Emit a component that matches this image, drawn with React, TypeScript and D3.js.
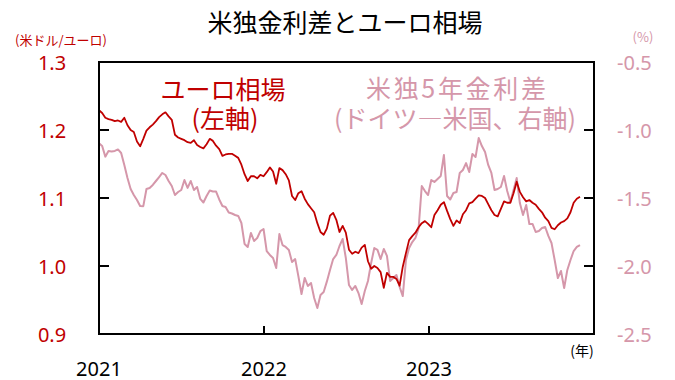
import React from "react";
import * as d3 from "d3";

// Weekly observations starting 2021-01-01
const startDate = new Date(2021, 0, 1);

// EUR/USD (left axis, USD per EUR)
const eurUsd = [
  1.229, 1.225, 1.218, 1.216, 1.215, 1.213, 1.214, 1.212, 1.218, 1.207,
  1.200, 1.197, 1.183, 1.176, 1.187, 1.199, 1.204, 1.208, 1.213, 1.219,
  1.223, 1.226, 1.220, 1.215, 1.193, 1.189, 1.187, 1.185, 1.182, 1.181,
  1.185, 1.178, 1.175, 1.173, 1.179, 1.187, 1.184, 1.177, 1.172, 1.162,
  1.164, 1.165, 1.165, 1.162, 1.159, 1.149, 1.135, 1.125, 1.132, 1.132,
  1.129, 1.134, 1.132, 1.138, 1.145, 1.139, 1.121, 1.144, 1.141, 1.135,
  1.126, 1.103, 1.097, 1.107, 1.110, 1.099, 1.091, 1.085, 1.079, 1.063,
  1.050, 1.046, 1.055, 1.074, 1.078, 1.068, 1.050, 1.059, 1.049, 1.024,
  1.018, 1.021, 1.019, 1.027, 1.031, 1.007, 0.996, 1.000, 0.997, 0.991,
  0.968, 0.990, 0.984, 0.984, 0.981, 0.971, 0.999, 1.019, 1.038, 1.044,
  1.049, 1.057, 1.063, 1.066, 1.062, 1.057, 1.075, 1.082, 1.090, 1.094,
  1.081, 1.069, 1.059, 1.067, 1.063, 1.076, 1.082, 1.092, 1.094, 1.099,
  1.104, 1.103, 1.100, 1.091, 1.082, 1.075, 1.073, 1.084, 1.095, 1.093,
  1.093, 1.107, 1.124, 1.109, 1.101, 1.095, 1.097, 1.093, 1.090, 1.084,
  1.079, 1.071, 1.066, 1.056, 1.054, 1.060, 1.064, 1.066, 1.070, 1.079,
  1.093, 1.099, 1.102,
];

// Germany minus US 5Y yield spread (right axis, %)
const spread5y = [
  -1.098, -1.118, -1.196, -1.154, -1.158, -1.154, -1.143, -1.169, -1.257, -1.353,
  -1.434, -1.478, -1.515, -1.559, -1.560, -1.434, -1.426, -1.404, -1.375, -1.346,
  -1.316, -1.331, -1.375, -1.412, -1.478, -1.456, -1.441, -1.368, -1.426, -1.375,
  -1.441, -1.419, -1.507, -1.533, -1.485, -1.445, -1.452, -1.453, -1.511, -1.559,
  -1.566, -1.607, -1.614, -1.625, -1.632, -1.684, -1.838, -1.860, -1.757, -1.816,
  -1.794, -1.743, -1.728, -1.890, -1.919, -1.941, -2.015, -1.765, -1.846, -1.860,
  -1.882, -1.971, -1.949, -2.074, -2.206, -2.088, -2.147, -2.125, -2.235, -2.309,
  -2.213, -2.191, -2.115, -2.029, -1.949, -1.919, -1.853, -1.801, -1.941, -2.140,
  -2.176, -2.147, -2.199, -2.279, -2.184, -2.110, -1.978, -1.868, -1.882, -1.949,
  -1.875, -1.926, -2.110, -2.088, -2.066, -2.154, -2.221, -1.956, -1.868, -1.824,
  -1.794, -1.723, -1.412, -1.449, -1.478, -1.368, -1.382, -1.360, -1.338, -1.184,
  -1.485, -1.511, -1.463, -1.456, -1.316, -1.294, -1.243, -1.309, -1.176, -1.199,
  -1.059, -1.118, -1.162, -1.257, -1.316, -1.441, -1.434, -1.419, -1.338, -1.449,
  -1.529, -1.441, -1.353, -1.537, -1.625, -1.551, -1.691, -1.691, -1.750, -1.743,
  -1.721, -1.713, -1.779, -1.831, -1.956, -2.088, -2.037, -2.162, -2.029, -1.956,
  -1.890, -1.860, -1.846,
];

const leftTicks = [0.9, 1.0, 1.1, 1.2, 1.3];
const rightTicks = [-2.5, -2.0, -1.5, -1.0, -0.5];
const yearTicks = [2021, 2022, 2023];

const RED = "#c00000";
const PINK = "#d597aa";
const JP = "'Noto Sans CJK JP', 'Noto Sans', sans-serif";
const NUM = "'Noto Sans', 'Open Sans', sans-serif";

export default function App() {
  const W = 675, H = 380;
  const L = 99, R = 594, T = 62, B = 334;

  const dates = eurUsd.map((_, i) => d3.timeDay.offset(startDate, 7 * i));
  const x = d3.scaleTime().domain([new Date(2021, 0, 1), new Date(2024, 0, 1)]).range([L, R]);
  const yL = d3.scaleLinear().domain([0.9, 1.3]).range([B, T]);
  const yR = d3.scaleLinear().domain([-2.5, -0.5]).range([B, T]);

  const lineL = d3.line<number>().x((_, i) => x(dates[i])).y((d) => yL(d));
  const lineR = d3.line<number>().x((_, i) => x(dates[i])).y((d) => yR(d));

  return (
    <svg width={W} height={H} style={{ position: "absolute", left: 0, top: 0, background: "#fff" }}>
      <text x={345} y={21} textAnchor="middle" dominantBaseline="central" fontFamily={JP} fontSize={25} fill="#000">
        米独金利差とユーロ相場
      </text>
      <text x={61} y={39} textAnchor="middle" dominantBaseline="central" fontFamily={JP} fontSize={13} fill={RED}>
        (米ドル/ユーロ)
      </text>
      <text x={643} y={36} textAnchor="middle" dominantBaseline="central" fontFamily={JP} fontSize={13} fill={PINK}>
        (%)
      </text>

      <path d={lineR(spread5y) || ""} fill="none" stroke={PINK} strokeWidth={2} strokeLinejoin="round" />
      <path d={lineL(eurUsd) || ""} fill="none" stroke={RED} strokeWidth={1.8} strokeLinejoin="round" />

      <rect x={L} y={T} width={R - L} height={B - T} fill="none" stroke="#000" strokeWidth={2} />

      {leftTicks.map((t) => (
        <g key={"l" + t}>
          {t > 0.9 && t < 1.3 && <line x1={L} x2={L + 10} y1={yL(t)} y2={yL(t)} stroke="#000" strokeWidth={2} />}
          <text x={52} y={yL(t)} textAnchor="middle" dominantBaseline="central" fontFamily={NUM} fontSize={20} fill={RED}>
            {t.toFixed(1)}
          </text>
        </g>
      ))}
      {rightTicks.map((t) => (
        <g key={"r" + t}>
          {t > -2.5 && t < -0.5 && <line x1={R - 10} x2={R} y1={yR(t)} y2={yR(t)} stroke="#000" strokeWidth={2} />}
          <text x={617} y={yR(t)} textAnchor="start" dominantBaseline="central" fontFamily={NUM} fontSize={20} fill={PINK}>
            {t.toFixed(1)}
          </text>
        </g>
      ))}
      {yearTicks.map((yr) => {
        const xx = x(new Date(yr, 0, 1));
        return (
          <g key={"y" + yr}>
            {yr > 2021 && <line x1={xx} x2={xx} y1={B} y2={B - 8} stroke="#000" strokeWidth={2} />}
            <text x={xx} y={368} textAnchor="middle" dominantBaseline="central" fontFamily={NUM} fontSize={20} fill="#000">
              {yr}
            </text>
          </g>
        );
      })}
      <text x={582} y={350} textAnchor="middle" dominantBaseline="central" fontFamily={JP} fontSize={14} fill="#000">
        (年)
      </text>

      <text x={223} y={88} textAnchor="middle" dominantBaseline="central" fontFamily={JP} fontSize={25} fill={RED}>
        ユーロ相場
      </text>
      <text x={225} y={117} textAnchor="middle" dominantBaseline="central" fontFamily={JP} fontSize={25} fill={RED}>
        (左軸)
      </text>
      <text x={456} y={87} textAnchor="middle" dominantBaseline="central" fontFamily={JP} fontSize={25} fill={PINK}
        textLength={180} lengthAdjust="spacing">
        米独5年金利差
      </text>
      <text x={455} y={117} textAnchor="middle" dominantBaseline="central" fontFamily={JP} fontSize={25} fill={PINK}>
        (ドイツ―米国、右軸)
      </text>
    </svg>
  );
}
